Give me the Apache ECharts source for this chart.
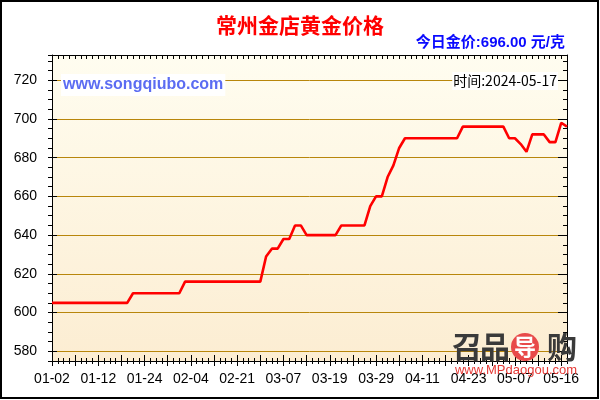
<!DOCTYPE html>
<html><head><meta charset="utf-8">
<script src="https://cdn.jsdelivr.net/npm/echarts@6/dist/echarts.min.js"></script>
<style>html,body{margin:0;padding:0;background:#fff}#c{width:600px;height:400px}</style>
</head><body><div id="c"></div><script>
// ---- data ----
const dates = [
 '01-02','01-03','01-04','01-05','01-08','01-09','01-10','01-11','01-12','01-15',
 '01-16','01-17','01-18','01-19','01-22','01-23','01-24','01-25','01-26','01-29',
 '01-30','01-31','02-01','02-02','02-04','02-05','02-06','02-07','02-08','02-18',
 '02-19','02-20','02-21','02-22','02-23','02-26','02-28','03-01','03-04','03-06',
 '03-07','03-08','03-11','03-12','03-13','03-14','03-15','03-18','03-19','03-20',
 '03-21','03-22','03-25','03-26','03-27','03-28','03-29','04-01','04-02','04-03',
 '04-07','04-08','04-09','04-10','04-11','04-12','04-15','04-16','04-17','04-18',
 '04-19','04-22','04-23','04-24','04-25','04-26','04-28','04-29','04-30','05-06',
 '05-07','05-08','05-09','05-10','05-11','05-13','05-14','05-15','05-16','05-17'
];
const prices = [
 605,605,605,605,605,605,605,605,605,605,605,605,605,605,
 610,610,610,610,610,610,610,610,610,
 616,616,616,616,616,616,616,616,616,616,616,616,616,616,
 629,633,633,638,638,645,645,
 640,640,640,640,640,640,
 645,645,645,645,645,
 655,660,660,670,676,685,
 690,690,690,690,690,690,690,690,690,690,
 696,696,696,696,696,696,696,696,
 690,690,687,683,
 692,692,692,
 688,688,
 698,696
];
const yLabelValues = [580,600,620,640,660,680,700,720];
const year = '2024';
const titleText = '常州金店黄金价格';
const unitText = '元/克';
const siteText = 'www.songqiubo.com';

// ---- chart ----
const FONT = '"Liberation Sans", Arial, "Noto Sans CJK SC", sans-serif';
const BLACK = '#000';
function yAx(pos, o) {
  return Object.assign({type:'value', position:pos, min:575, max:733, interval:5,
    axisLine:{show:false}, axisTick:{show:false}, axisLabel:{show:false}, splitLine:{show:false}}, o);
}
function xAx(pos, o) {
  return Object.assign({type:'category', data:dates, boundaryGap:false, position:pos,
    axisLine:{show:false,onZero:false}, axisTick:{show:false}, axisLabel:{show:false}, splitLine:{show:false}}, o);
}
const tl = {color:BLACK, width:1};
const chart = echarts.init(document.getElementById('c'), null, {renderer:'canvas'});
const last = prices[prices.length-1];
chart.setOption({
  animation:false,
  backgroundColor:'#fff',
  title:{text:titleText, left:'center', top:10,
    textStyle:{color:'#ff0000', fontSize:21, fontWeight:'bold', fontFamily:'"Noto Sans CJK SC", sans-serif'}},
  grid:{left:52, right:33, top:55, bottom:39, show:true, borderWidth:0,
    backgroundColor:{type:'linear', x:0, y:0, x2:0, y2:1,
      colorStops:[{offset:0,color:'#fffdf0'},{offset:1,color:'#fcedd2'}]}},
  xAxis:[
    xAx('bottom',{axisLine:{show:true,onZero:false,lineStyle:tl},
      axisTick:{show:true,interval:0,inside:false,length:3,lineStyle:tl},
      axisLabel:{show:true,interval:7,margin:11,color:BLACK,fontSize:14,fontFamily:FONT}}),
    xAx('bottom',{axisTick:{show:true,interval:0,inside:true,length:3,lineStyle:tl}}),
    xAx('bottom',{axisTick:{show:true,interval:3,inside:true,length:6,lineStyle:tl}}),
    xAx('bottom',{axisTick:{show:true,interval:3,inside:false,length:5,lineStyle:tl}}),
    xAx('top',{axisLine:{show:true,onZero:false,lineStyle:tl},
      axisTick:{show:true,interval:0,inside:true,length:4,lineStyle:tl}})
  ],
  yAxis:[
    yAx('left',{axisLine:{show:true,lineStyle:tl},
      axisTick:{show:true,inside:false,length:4,lineStyle:tl},
      axisLabel:{show:true,margin:15,color:BLACK,fontSize:14,fontFamily:FONT,
        formatter:v=>yLabelValues.indexOf(v)>=0?String(v):''},
      splitLine:{show:true,lineStyle:{width:1,color:['rgba(0,0,0,0)','#b8860b','rgba(0,0,0,0)','rgba(0,0,0,0)']}}}),
    yAx('left',{axisTick:{show:true,inside:true,length:5,customValues:yLabelValues,lineStyle:tl}}),
    yAx('right',{axisLine:{show:true,lineStyle:tl},
      axisTick:{show:true,inside:true,length:4,lineStyle:tl}}),
    yAx('right',{axisTick:{show:true,inside:true,length:9,customValues:yLabelValues,lineStyle:tl}})
  ],
  series:[{type:'line', data:prices, xAxisIndex:0, yAxisIndex:0, showSymbol:false, symbol:'none',
    z:5, lineStyle:{color:'#ff0000', width:2.6}}],
  graphic:[
    {type:'rect', z:200, silent:true, shape:{x:1,y:1,width:597,height:397},
      style:{fill:null, stroke:'#000', lineWidth:2}},
    {type:'text', z:100, x:565, y:43, style:{text:'今日金价:'+last.toFixed(2)+' '+unitText,
      align:'right', verticalAlign:'middle', fill:'#0a0aff', font:'bold 15px '+FONT}},
    {type:'text', z:100, x:61, y:85, style:{text:siteText, align:'left', verticalAlign:'middle',
      fill:'#5b6cf2', font:'bold 16px '+FONT, backgroundColor:'#fff', padding:[3,2,3,2]}},
    {type:'text', z:100, x:558, y:81, style:{text:'时间:'+year+'-'+dates[dates.length-1],
      align:'right', verticalAlign:'middle', fill:'#000', font:'14px "Noto Sans CJK SC", sans-serif',
      backgroundColor:'#fff', padding:[2,1,2,1]}},
    {type:'text', z:100, x:467, y:347, style:{text:'召', align:'center', verticalAlign:'middle',
      fill:'#3a3a3a', font:'bold 30px "Noto Sans CJK SC", sans-serif'}},
    {type:'text', z:100, x:495, y:347, style:{text:'品', align:'center', verticalAlign:'middle',
      fill:'#3a3a3a', font:'bold 30px "Noto Sans CJK SC", sans-serif'}},
    {type:'circle', z:100, shape:{cx:525, cy:347, r:14}, style:{fill:'#e84a4a'}},
    {type:'text', z:101, x:525, y:347, style:{text:'导', align:'center', verticalAlign:'middle',
      fill:'#fff', font:'bold 22px "Noto Sans CJK SC", sans-serif'}},
    {type:'text', z:100, x:562, y:347, style:{text:'购', align:'center', verticalAlign:'middle',
      fill:'#3a3a3a', font:'bold 30px "Noto Sans CJK SC", sans-serif'}},
    {type:'text', z:100, x:516, y:370, style:{text:'www.MPdaogou.com', align:'center', verticalAlign:'middle',
      fill:'#e53935', font:'13px '+FONT}}
  ]
});
</script></body></html>
